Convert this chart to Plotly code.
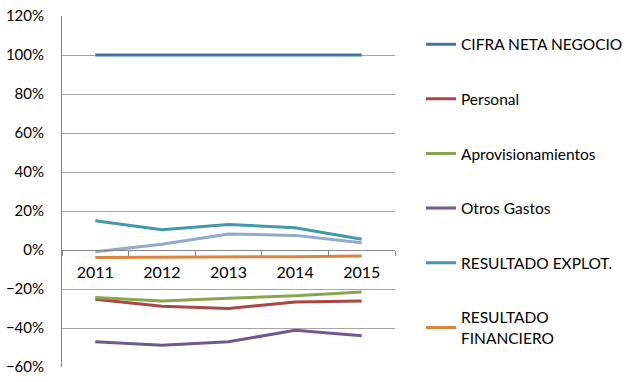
import plotly.graph_objects as go

years = ["2011", "2012", "2013", "2014", "2015"]
cifra = [100, 100, 100, 100, 100]
personal = [-25.2, -28.8, -30.0, -26.7, -26.2]
aprov = [-24.4, -26.1, -24.7, -23.5, -21.6]
otros = [-47.1, -48.8, -47.1, -41.1, -44.0]
explot = [15.0, 10.4, 13.1, 11.4, 5.5]
financiero = [-3.9, -3.8, -3.7, -3.4, -3.1]
ejercicio = [-0.9, 2.9, 8.2, 7.5, 3.7]

names = ["CIFRA NETA NEGOCIO", "Personal", "Aprovisionamientos", "Otros Gastos",
         "RESULTADO EXPLOT.", "RESULTADO<br>FINANCIERO", "RESULTADO EJERCICIO"]
series = [cifra, personal, aprov, otros, explot, financiero, ejercicio]
colors = ["#4572A7", "#AA4643", "#89A54E", "#71588F", "#4198AF", "#DB843D", "#92A8CD"]

fig = go.Figure()
for i, (n, s, c) in enumerate(zip(names, series, colors)):
    fig.add_trace(go.Scatter(
        x=years, y=[v / 100 for v in s], name=n, mode="lines",
        line=dict(color=c, width=3),
        legendgroup=f"g{i}", showlegend=(i < 6),
    ))

fig.update_layout(
    width=640, height=382,
    margin=dict(l=62, r=243, t=16, b=15),
    paper_bgcolor="white", plot_bgcolor="white",
    font=dict(family="Lato", size=14, color="#000000"),
    showlegend=True,
    legend=dict(x=1.078, y=0.967, xanchor="left", yanchor="top",
                tracegroupgap=31.5, itemwidth=30, font=dict(size=15.5),
                bgcolor="rgba(0,0,0,0)"),
    xaxis=dict(
        type="category", anchor="free", position=1/3, automargin=False,
        showline=True, linecolor="#868686", linewidth=1,
        ticks="outside", tickson="boundaries", ticklen=5, tickcolor="#868686",
        ticklabelstandoff=8,
        showgrid=False, tickfont=dict(size=16), range=[-0.5, 4.5],
    ),
    yaxis=dict(
        range=[-0.6, 1.2], dtick=0.2, tickformat=".0%", automargin=False,
        showgrid=True, gridcolor="#a6a6a6", gridwidth=1,
        showline=True, linecolor="#868686", linewidth=1,
        zeroline=False, ticks="", tickfont=dict(size=15),
        ticklabelstandoff=14,
    ),
)

fig.write_html("out.html", config={"displayModeBar": False},
               post_script="document.body.style.margin='0';")
